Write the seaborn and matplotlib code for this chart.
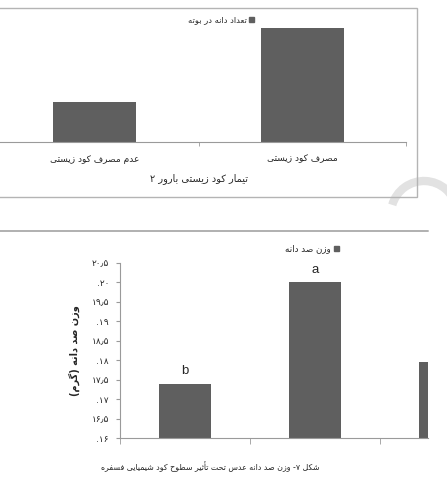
import matplotlib
matplotlib.use("Agg")
import matplotlib.pyplot as plt
import seaborn as sns
from matplotlib.patches import Patch, Rectangle, Arc
from matplotlib.lines import Line2D

# chart 1: grain count per plant (its y axis is cut off in the scan)
top_groups = ["عدم مصرف کود زیستی", "مصرف کود زیستی"]
top_values = [7, 20]
top_legend = "تعداد دانه در بوته"
top_xlabel = "تیمار کود زیستی بارور ۲"

# chart 2: 100-seed weight, the third bar is cut by the page edge
bottom_groups = ["P1", "P2", "P3"]
bottom_values = [17.4, 20.0, 17.95]
bottom_letters = ["b", "a", ""]
bottom_yticks = [16, 16.5, 17, 17.5, 18, 18.5, 19, 19.5, 20, 20.5]
bottom_yticklabels = [".۱۶", "۱۶٫۵", ".۱۷", "۱۷٫۵", ".۱۸", "۱۸٫۵", ".۱۹", "۱۹٫۵", ".۲۰", "۲۰٫۵"]
bottom_legend = "وزن صد دانه"
bottom_ylabel = "وزن صد دانه (گرم)"
caption = "شکل ۷- وزن صد دانه عدس تحت تأثیر سطوح کود شیمیایی فسفره"

bar_color = "#5f5f5f"
axis_color = "#9a9a9a"

# matplotlib has no arabic shaping, so pick the presentation forms by hand
# (isolated, final, initial, medial)
FORMS = {
    "ا": ("\ufe8d", "\ufe8e", None, None),
    "أ": ("\ufe83", "\ufe84", None, None),
    "ب": ("\ufe8f", "\ufe90", "\ufe91", "\ufe92"),
    "ت": ("\ufe95", "\ufe96", "\ufe97", "\ufe98"),
    "ث": ("\ufe99", "\ufe9a", "\ufe9b", "\ufe9c"),
    "ح": ("\ufea1", "\ufea2", "\ufea3", "\ufea4"),
    "د": ("\ufea9", "\ufeaa", None, None),
    "ر": ("\ufead", "\ufeae", None, None),
    "ز": ("\ufeaf", "\ufeb0", None, None),
    "س": ("\ufeb1", "\ufeb2", "\ufeb3", "\ufeb4"),
    "ش": ("\ufeb5", "\ufeb6", "\ufeb7", "\ufeb8"),
    "ص": ("\ufeb9", "\ufeba", "\ufebb", "\ufebc"),
    "ط": ("\ufec1", "\ufec2", "\ufec3", "\ufec4"),
    "ع": ("\ufec9", "\ufeca", "\ufecb", "\ufecc"),
    "ف": ("\ufed1", "\ufed2", "\ufed3", "\ufed4"),
    "ل": ("\ufedd", "\ufede", "\ufedf", "\ufee0"),
    "م": ("\ufee1", "\ufee2", "\ufee3", "\ufee4"),
    "ن": ("\ufee5", "\ufee6", "\ufee7", "\ufee8"),
    "ه": ("\ufee9", "\ufeea", "\ufeeb", "\ufeec"),
    "و": ("\ufeed", "\ufeee", None, None),
    "\u06a9": ("\ufb8e", "\ufb8f", "\ufb90", "\ufb91"),
    "\u0643": ("\ufb8e", "\ufb8f", "\ufb90", "\ufb91"),
    "\u06af": ("\ufb92", "\ufb93", "\ufb94", "\ufb95"),
    "\u06cc": ("\ufbfc", "\ufbfd", "\ufbfe", "\ufbff"),
    "\u064a": ("\ufbfc", "\ufbfd", "\ufbfe", "\ufbff"),
}
MIRROR = {"(": ")", ")": "("}


def rtl(text):
    # shape each letter, then reverse so it reads right to left
    out = []
    for i, ch in enumerate(text):
        if ch not in FORMS:
            out.append(MIRROR.get(ch, ch))
            continue
        iso, fin, ini, med = FORMS[ch]
        prev = text[i - 1] if i > 0 else ""
        nxt = text[i + 1] if i + 1 < len(text) else ""
        join_prev = prev in FORMS and FORMS[prev][2] is not None
        join_next = ini is not None and nxt in FORMS
        if join_prev and join_next:
            out.append(med)
        elif join_prev:
            out.append(fin)
        elif join_next:
            out.append(ini)
        else:
            out.append(iso)
    return "".join(reversed(out))


sns.set_style("white")
plt.rcParams["font.family"] = ["DejaVu Sans"]

fig = plt.figure(figsize=(4.47, 4.78), dpi=100)
W, H = 447.0, 478.0

# frame of chart 1 and top border of chart 2
fig.patches.append(Rectangle((-5 / W, 1 - 197 / H), 422 / W, 189 / H, transform=fig.transFigure,
                             fill=False, edgecolor="#b4b4b4", linewidth=1))
fig.lines.append(Line2D([0, 428 / W], [1 - 231 / H, 1 - 231 / H], transform=fig.transFigure,
                        color="#b0b0b0", linewidth=1.4))
# watermark arc at the page edge
fig.patches.append(Arc((424 / W, 1 - 214 / H), 66 / W, 66 / H, theta1=10, theta2=165,
                       transform=fig.transFigure, color="#e2e2e2", linewidth=6, zorder=0))

# ---- chart 1
ax1 = fig.add_axes([-9 / W, 1 - 142 / H, 415 / W, 120 / H])
sns.barplot(x=top_groups, y=top_values, color=bar_color, saturation=1, width=0.4,
            errorbar=None, linewidth=0, ax=ax1)
ax1.set_xlim(-0.5, 1.5)
ax1.set_ylim(0, 21)
ax1.set_yticks([])
ax1.set_ylabel("")
for s in ["left", "top", "right"]:
    ax1.spines[s].set_visible(False)
ax1.spines["bottom"].set_color(axis_color)
ax1.set_xticks(range(len(top_groups)), [rtl(g) for g in top_groups], fontsize=6.5)
ax1.set_xticks([-0.5, 0.5, 1.5], minor=True)
ax1.tick_params(axis="x", which="major", length=0, pad=9)
ax1.tick_params(axis="x", which="minor", length=3, color=axis_color, bottom=True)
ax1.set_xlabel(rtl(top_xlabel), fontsize=7, labelpad=7)
ax1.patch.set_alpha(0)
fig.legend(handles=[Patch(color=bar_color)], labels=[rtl(top_legend)],
           loc="center", bbox_to_anchor=(221 / W, 1 - 20 / H), frameon=False,
           markerfirst=False, handlelength=0.6, handleheight=0.6, handletextpad=0.3,
           fontsize=6, borderpad=0)

# ---- chart 2
ax2 = fig.add_axes([120 / W, 40 / H, 308 / W, 175 / H])
sns.barplot(x=bottom_groups, y=bottom_values, color=bar_color, saturation=1, width=0.4,
            errorbar=None, linewidth=0, ax=ax2)
ax2.set_xlim(-0.5, 1.87)
ax2.set_ylim(16, 20.5)
for s in ["top", "right"]:
    ax2.spines[s].set_visible(False)
ax2.spines["left"].set_color(axis_color)
ax2.spines["bottom"].set_color(axis_color)
ax2.set_yticks(bottom_yticks, bottom_yticklabels, fontsize=6.5)
ax2.tick_params(axis="y", length=3, pad=5, color=axis_color, left=True)
ax2.set_xticks([])
ax2.set_xticks([-0.5, 0.5, 1.5], minor=True)
ax2.tick_params(axis="x", which="minor", length=4, color=axis_color, bottom=True)
ax2.set_xlabel("")
ax2.set_ylabel(rtl(bottom_ylabel), fontsize=7, fontweight="bold")
ax2.yaxis.set_label_coords(-0.13, 0.5)
for i, (v, letter) in enumerate(zip(bottom_values, bottom_letters)):
    ax2.text(i, v + 0.24, letter, ha="center", va="baseline", fontsize=9.5,
             family="Liberation Sans")
fig.legend(handles=[Patch(color=bar_color)], labels=[rtl(bottom_legend)],
           loc="center", bbox_to_anchor=(312 / W, 1 - 249 / H), frameon=False,
           markerfirst=False, handlelength=0.6, handleheight=0.6, handletextpad=0.3,
           fontsize=6.3, borderpad=0)

fig.text(210 / W, 1 - 467 / H, rtl(caption), ha="center", va="center", fontsize=5.7)

fig.savefig("out.png", dpi=100)
